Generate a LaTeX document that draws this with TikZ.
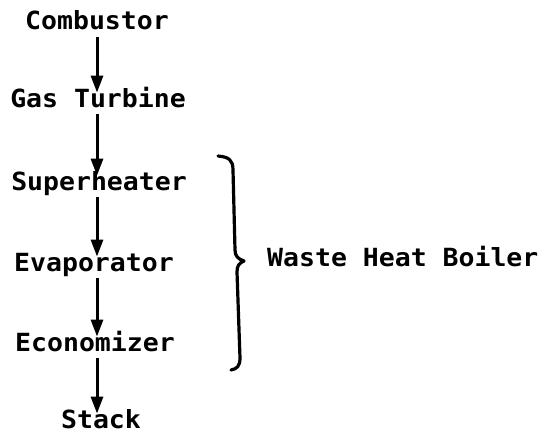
\documentclass[tikz,border=0pt]{standalone}
\usepackage{fontspec}
\setmonofont[FakeStretch=1.06]{DejaVu Sans Mono}
\usepackage{tikz}
\usetikzlibrary{arrows.meta}

\begin{document}
\begin{tikzpicture}[x=1pt, y=-1pt,
    unit/.style={font=\ttfamily\bfseries\fontsize{25}{30}\selectfont, inner sep=0pt, anchor=base, text height=0.72em, text depth=0.2em},
    flow/.style={line width=3pt, -{Triangle[length=17pt, width=12pt]}, shorten <=5pt, shorten >=7pt}]
    % Fix the page to the size of the reference (542 x 439)
    \useasboundingbox (0, 0) rectangle (542, 439);

    % Units along the gas path, top to bottom
    \node[unit] (comb) at (97, 30) {Combustor};
    \node[unit] (turb) at (98, 107) {Gas Turbine};
    \node[unit] (superh) at (99, 190) {Superheater};
    \node[unit] (evap) at (94, 271) {Evaporator};
    \node[unit] (econ) at (95, 351) {Economizer};
    \node[unit] (stack) at (101, 428) {Stack};

    % Gas flow arrows (kept vertical at x of the first unit)
    \draw[flow] (comb.south) -- (comb.south |- turb.north);
    \draw[flow] (comb.south |- turb.south) -- (comb.south |- superh.north);
    \draw[flow] (comb.south |- superh.south) -- (comb.south |- evap.north);
    \draw[flow] (comb.south |- evap.south) -- (comb.south |- econ.north);
    \draw[flow] (comb.south |- econ.south) -- (comb.south |- stack.north);

    % Brace round the three boiler sections
    \draw[line width=3.2pt, line cap=round, line join=round]
        (218, 156) .. controls (229, 157) and (233, 160) .. (233, 170)
        -- (235, 250) .. controls (235, 256) and (238, 259) .. (244, 261)
        .. controls (239, 263) and (237, 266) .. (237, 272)
        -- (240, 358) .. controls (240, 366) and (237, 369) .. (231, 370);
    \node[unit, anchor=base west] (whb) at (267, 266) {Waste Heat Boiler};
\end{tikzpicture}
\end{document}
